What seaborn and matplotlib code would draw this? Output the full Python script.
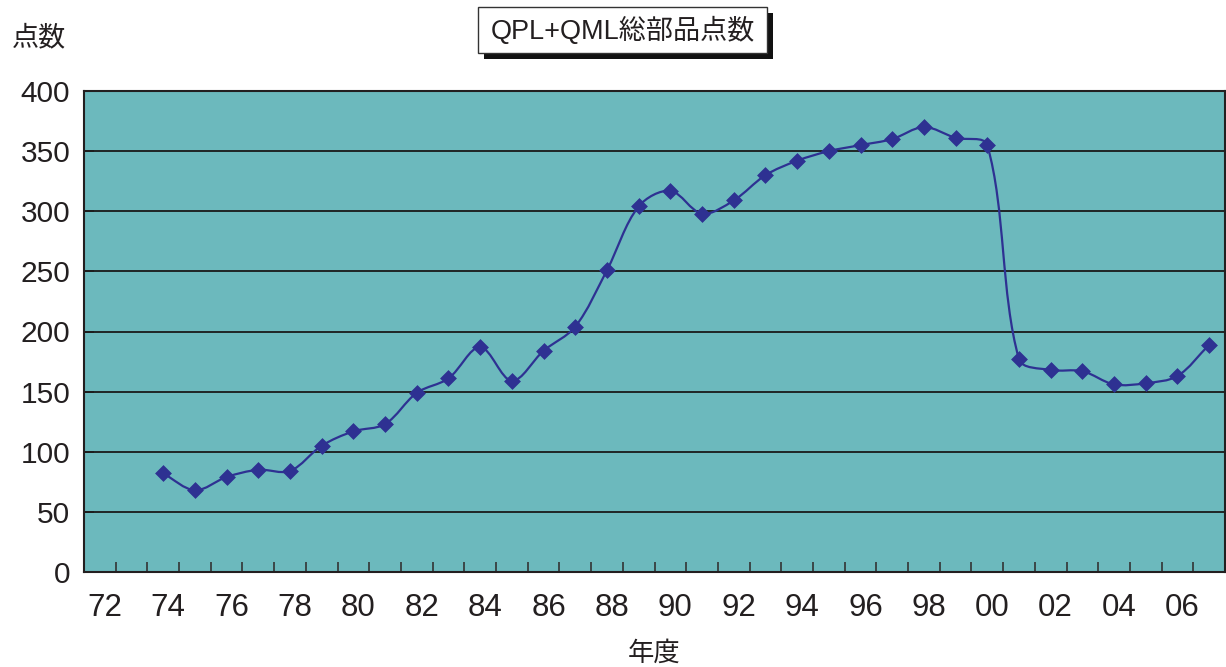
import numpy as np
import pandas as pd
import matplotlib
matplotlib.use("Agg")
import matplotlib.pyplot as plt
import matplotlib.transforms as mtransforms
from matplotlib.path import Path
from matplotlib.patches import PathPatch, Rectangle
import seaborn as sns

# ---- data -------------------------------------------------------------
years = ["72", "73", "74", "75", "76", "77", "78", "79", "80", "81", "82", "83",
         "84", "85", "86", "87", "88", "89", "90", "91", "92", "93", "94", "95",
         "96", "97", "98", "99", "00", "01", "02", "03", "04", "05", "06", "07"]
data_years = years[2:]
parts = [82, 68, 79, 85, 84, 105, 117, 123, 149, 161, 187, 159, 184, 204,
         251, 304, 317, 298, 309, 330, 342, 350, 355, 360, 370, 361, 355,
         177, 168, 167, 156, 157, 163, 189]
tick_labels = ["72", "74", "76", "78", "80", "82", "84", "86", "88", "90",
               "92", "94", "96", "98", "00", "02", "04", "06"]
y_ticks = [0, 50, 100, 150, 200, 250, 300, 350, 400]

title = "QPL+QML総部品点数"
y_label = "点数"
x_label = "年度"

# ---- style ------------------------------------------------------------
sns.set_theme(style="white")
plt.rcParams["font.family"] = ["Liberation Sans", "Noto Sans CJK JP", "DejaVu Sans"]

plot_bg = "#6cb9bd"
line_col = "#2e3192"
text_col = "#231f20"

df = pd.DataFrame({
    "idx": [years.index(y) for y in data_years],
    "parts": parts,
})

fig = plt.figure(figsize=(12.26, 6.67), dpi=100)
ax = fig.add_axes([84 / 1226, 1 - 572 / 667, (1225 - 84) / 1226, (572 - 91) / 667])
ax.set_facecolor(plot_bg)
ax.set_xlim(-0.5, len(years) - 0.5)
ax.set_ylim(0, 400)

# smoothed curve: cubic Bezier segments whose control arms are weighted by
# the on-screen lengths of the neighbouring segments (limits overshoot)
xs = df["idx"].to_numpy(dtype=float)
ys = df["parts"].to_numpy(dtype=float)
pts = np.column_stack([xs, ys])
scr = ax.transData.transform(pts)
n = len(pts)
tension = 1 / 3
ctrl_in = np.zeros_like(pts)
ctrl_out = np.zeros_like(pts)
for i in range(n):
    prev_s = scr[i - 1] if i > 0 else scr[i]
    next_s = scr[i + 1] if i < n - 1 else scr[i]
    prev_d = pts[i - 1] if i > 0 else pts[i]
    next_d = pts[i + 1] if i < n - 1 else pts[i]
    d_a = np.hypot(*(scr[i] - prev_s))
    d_b = np.hypot(*(next_s - scr[i]))
    tot = d_a + d_b if d_a + d_b > 0 else 1.0
    chord = next_d - prev_d
    ctrl_in[i] = pts[i] - tension * d_a / tot * chord
    ctrl_out[i] = pts[i] + tension * d_b / tot * chord

verts = [tuple(pts[0])]
codes = [Path.MOVETO]
for i in range(n - 1):
    verts += [tuple(ctrl_out[i]), tuple(ctrl_in[i + 1]), tuple(pts[i + 1])]
    codes += [Path.CURVE4] * 3
ax.add_patch(PathPatch(Path(verts, codes), facecolor="none",
                       edgecolor=line_col, lw=1.6, zorder=3))

sns.scatterplot(data=df, x="idx", y="parts", marker="D", s=65,
                color=line_col, edgecolor=line_col, linewidth=0.5,
                ax=ax, zorder=4, legend=False)

# grid
ax.set_yticks(y_ticks)
for v in y_ticks[1:-1]:
    ax.axhline(v, color="#1a1a1a", lw=1.3, zorder=1)

# x ticks: marks at category boundaries, labels at even-year centres
ax.set_xticks(np.arange(0.5, len(years) - 0.5, 1.0))
ax.set_xticklabels([])
ax.set_xticks([years.index(t) for t in tick_labels], minor=True)
ax.set_xticklabels(tick_labels, minor=True)
ax.tick_params(axis="x", which="major", direction="in", length=7, width=1.2,
               color="#333333", bottom=True)
ax.tick_params(axis="x", which="minor", length=0, pad=15, labelsize=22.5,
               labelcolor=text_col)
offset = mtransforms.ScaledTranslation(5 / 100, 0, fig.dpi_scale_trans)
for lab in ax.get_xticklabels(minor=True):
    lab.set_transform(lab.get_transform() + offset)

ax.tick_params(axis="y", direction="in", length=7, width=1.2, color="#333333",
               left=True, pad=10, labelsize=21.5, labelcolor=text_col)

for side in ["left", "bottom", "right", "top"]:
    ax.spines[side].set_visible(True)
    ax.spines[side].set_color("#231f20")
    ax.spines[side].set_linewidth(1.5)

ax.set_xlabel("")
ax.set_ylabel("")

# axis titles
fig.text(12 / 1226, 1 - 38 / 667, y_label, fontsize=19.5, color=text_col,
         ha="left", va="center")
fig.text(654 / 1226, 1 - 653 / 667, x_label, fontsize=19, color=text_col,
         ha="center", va="center")

# boxed title with drop shadow
bx0, bx1, by0, by1 = 478, 767, 7, 53
sh = 6
fig.patches.append(Rectangle(((bx0 + sh) / 1226, 1 - (by1 + sh) / 667),
                             (bx1 - bx0) / 1226, (by1 - by0) / 667,
                             transform=fig.transFigure, facecolor="#111111",
                             edgecolor="none", zorder=1))
fig.patches.append(Rectangle((bx0 / 1226, 1 - by1 / 667),
                             (bx1 - bx0) / 1226, (by1 - by0) / 667,
                             transform=fig.transFigure, facecolor="white",
                             edgecolor="#333333", lw=1.0, zorder=2))
fig.text((bx0 + bx1) / 2 / 1226, 1 - 31 / 667, title, fontsize=19.5,
         color=text_col, ha="center", va="center", zorder=3)

fig.savefig("out.png", dpi=100, facecolor="white")
